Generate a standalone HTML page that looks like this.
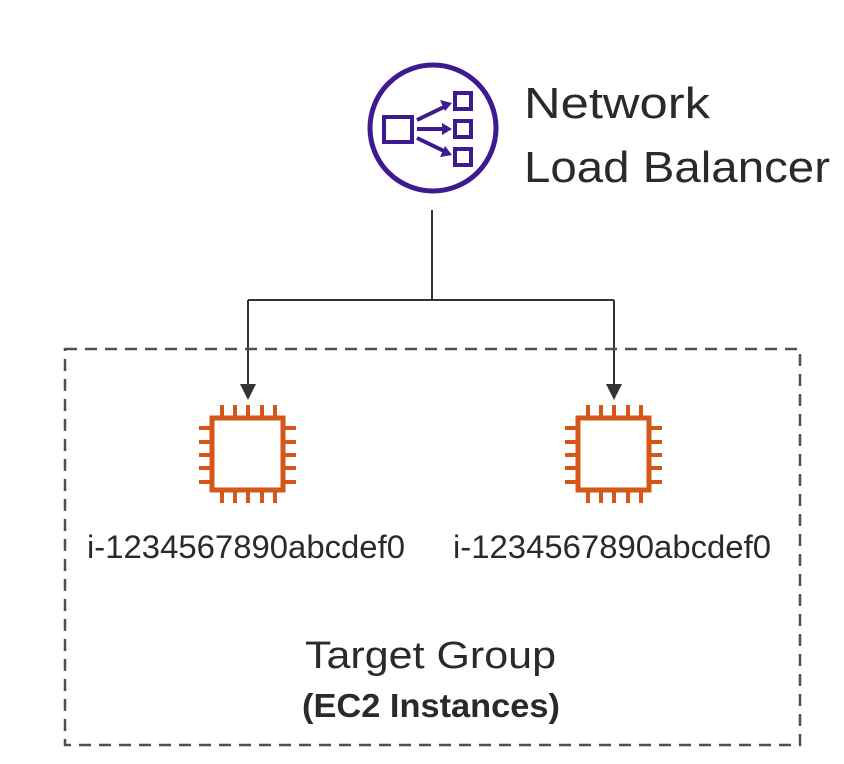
<!DOCTYPE html>
<html><head><style>html,body{margin:0;padding:0;background:#fff}svg{display:block}</style></head>
<body>
<svg width="844" height="764" viewBox="0 0 844 764" xmlns="http://www.w3.org/2000/svg" font-family="Liberation Sans, sans-serif">
<defs>
<g id="chip" fill="none" stroke="#d4571a" stroke-width="4">
<rect x="212" y="418" width="71" height="72" stroke-width="5"/>
<path d="M222 405v13M235 405v13M248 405v13M262 405v13M275 405v13M222 490v13M235 490v13M248 490v13M262 490v13M275 490v13M199 428h13M199 442h13M199 455h13M199 468h13M199 482h13M283 428h13M283 442h13M283 455h13M283 468h13M283 482h13"/>
</g>
</defs>
<circle cx="433" cy="128" r="63" fill="none" stroke="#3d1a8f" stroke-width="5"/>
<g fill="none" stroke="#3d1a8f" stroke-width="4">
<rect x="384" y="117" width="28" height="25"/>
<rect x="455" y="93" width="16" height="16"/>
<rect x="455" y="121" width="16" height="16"/>
<rect x="455" y="149" width="16" height="16"/>
<path d="M417 120 L446 106 M417 129 L446 129 M417 138 L446 152"/>
</g>
<g fill="#3d1a8f">
<path d="M452 103 L440 100 L445 111 Z"/>
<path d="M452 129 L442 123 L442 135 Z"/>
<path d="M452 155 L445 146 L440 157 Z"/>
</g>
<text x="524" y="118" font-size="44" fill="#2a2a2a" textLength="186" lengthAdjust="spacingAndGlyphs">Network</text>
<text x="524" y="182" font-size="44" fill="#2a2a2a" textLength="306" lengthAdjust="spacingAndGlyphs">Load Balancer</text>
<path d="M432 210V300M248 300H614M248 300V386M614 300V386" fill="none" stroke="#333" stroke-width="2"/>
<path d="M240 384L256 384L248 400Z M606 384L622 384L614 400Z" fill="#333"/>
<rect x="65" y="349" width="735" height="396" fill="none" stroke="#4a5058" stroke-width="2.5" stroke-dasharray="12 8"/>
<use href="#chip"/>
<use href="#chip" transform="translate(366 0)"/>
<text x="87" y="558" font-size="32" fill="#2a2a2a" textLength="318" lengthAdjust="spacingAndGlyphs">i-1234567890abcdef0</text>
<text x="453" y="558" font-size="32" fill="#2a2a2a" textLength="318" lengthAdjust="spacingAndGlyphs">i-1234567890abcdef0</text>
<text x="305" y="668" font-size="38" fill="#2a2a2a" textLength="251" lengthAdjust="spacingAndGlyphs">Target Group</text>
<text x="302" y="717" font-size="33" font-weight="bold" fill="#2a2a2a" textLength="258" lengthAdjust="spacingAndGlyphs">(EC2 Instances)</text>
</svg>
</body></html>
